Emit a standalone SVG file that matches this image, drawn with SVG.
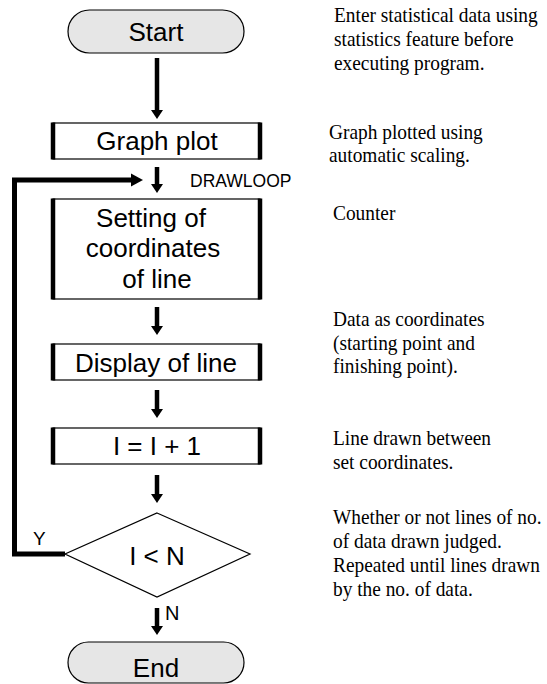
<svg xmlns="http://www.w3.org/2000/svg" width="547" height="684" viewBox="0 0 547 684">
<style>
.lbl{font-family:"Liberation Sans",Arial,sans-serif;font-size:26px;fill:#000;text-anchor:middle}
.small{font-family:"Liberation Sans",Arial,sans-serif;fill:#000}
.note{font-family:"Liberation Serif","Times New Roman",serif;font-size:22px;fill:#000}
.box{fill:#fff;stroke:#000;stroke-width:1.2}
.bar{stroke:#000;stroke-width:4.5}
.term{fill:#e6e6e6;stroke:#000;stroke-width:1.2}
.conn{stroke:#000;stroke-width:4.5;fill:none}
.loop{stroke:#000;stroke-width:5;fill:none}
.head{fill:#000}
</style>
<rect width="547" height="684" fill="#fff"/>

<g id="connectors">
  <line class="conn" x1="157" y1="58" x2="157" y2="111"/>
  <polygon class="head" points="151,110 163,110 157,119"/>
  <line class="conn" x1="157" y1="167" x2="157" y2="185"/>
  <polygon class="head" points="151,184 163,184 157,193"/>
  <line class="conn" x1="157" y1="307" x2="157" y2="327"/>
  <polygon class="head" points="151,326 163,326 157,335"/>
  <line class="conn" x1="157" y1="390" x2="157" y2="410"/>
  <polygon class="head" points="151,409 163,409 157,418"/>
  <line class="conn" x1="157" y1="475" x2="157" y2="495"/>
  <polygon class="head" points="151,494 163,494 157,503"/>
  <line class="conn" x1="157" y1="608" x2="157" y2="627"/>
  <polygon class="head" points="151,626 163,626 157,635"/>
  <polyline class="loop" points="65,554 14.5,554 14.5,180 133,180"/>
  <polygon class="head" points="131,173.5 131,186.5 143,180"/>
  <text class="small" x="190" y="187" font-size="17.5">DRAWLOOP</text>
  <text class="small" x="33" y="545" font-size="19">Y</text>
  <text class="small" x="165" y="620" font-size="20">N</text>
</g>

<g id="start">
  <rect class="term" x="68" y="10" width="176" height="43" rx="21.5" ry="21.5"/>
  <text class="lbl" x="156" y="41">Start</text>
</g>

<g id="graph-plot">
  <rect class="box" x="53" y="123" width="207" height="36"/>
  <line class="bar" x1="53" y1="122.5" x2="53" y2="159.5"/>
  <line class="bar" x1="260" y1="122.5" x2="260" y2="159.5"/>
  <text class="lbl" x="157" y="150">Graph plot</text>
</g>

<g id="setting">
  <rect class="box" x="53" y="199" width="207" height="100"/>
  <line class="bar" x1="53" y1="198.5" x2="53" y2="299.5"/>
  <line class="bar" x1="260" y1="198.5" x2="260" y2="299.5"/>
  <text class="lbl" x="151" y="227">Setting of</text>
  <text class="lbl" x="153" y="257">coordinates</text>
  <text class="lbl" x="157" y="288">of line</text>
</g>

<g id="display">
  <rect class="box" x="53" y="344" width="207" height="36"/>
  <line class="bar" x1="53" y1="343.5" x2="53" y2="380.5"/>
  <line class="bar" x1="260" y1="343.5" x2="260" y2="380.5"/>
  <text class="lbl" x="156" y="372">Display of line</text>
</g>

<g id="increment">
  <rect class="box" x="53" y="428" width="207" height="36"/>
  <line class="bar" x1="53" y1="427.5" x2="53" y2="464.5"/>
  <line class="bar" x1="260" y1="427.5" x2="260" y2="464.5"/>
  <text class="lbl" x="157" y="455">I = I + 1</text>
</g>

<g id="decision">
  <polygon class="box" points="157,513 250,554 157,597 65,554"/>
  <text class="lbl" x="157" y="565">I &lt; N</text>
</g>

<g id="end">
  <rect class="term" x="68" y="642" width="176" height="41" rx="20.5" ry="20.5"/>
  <text class="lbl" x="156" y="677">End</text>
</g>

<g id="notes">
  <g transform="translate(334,0) scale(0.88,1)">
    <text class="note" x="0" y="22">Enter statistical data using</text>
    <text class="note" x="0" y="46">statistics feature before</text>
    <text class="note" x="0" y="70">executing program.</text>
  </g>
  <g transform="translate(329,0) scale(0.88,1)">
    <text class="note" x="0" y="139">Graph plotted using</text>
    <text class="note" x="0" y="162">automatic scaling.</text>
  </g>
  <g transform="translate(333,0) scale(0.88,1)">
    <text class="note" x="0" y="220">Counter</text>
    <text class="note" x="0" y="326">Data as coordinates</text>
    <text class="note" x="0" y="350">(starting point and</text>
    <text class="note" x="0" y="373">finishing point).</text>
    <text class="note" x="0" y="445">Line drawn between</text>
    <text class="note" x="0" y="469">set coordinates.</text>
    <text class="note" x="0" y="524">Whether or not lines of no.</text>
    <text class="note" x="0" y="548">of data drawn judged.</text>
    <text class="note" x="0" y="572">Repeated until lines drawn</text>
    <text class="note" x="0" y="596">by the no. of data.</text>
  </g>
</g>
</svg>
